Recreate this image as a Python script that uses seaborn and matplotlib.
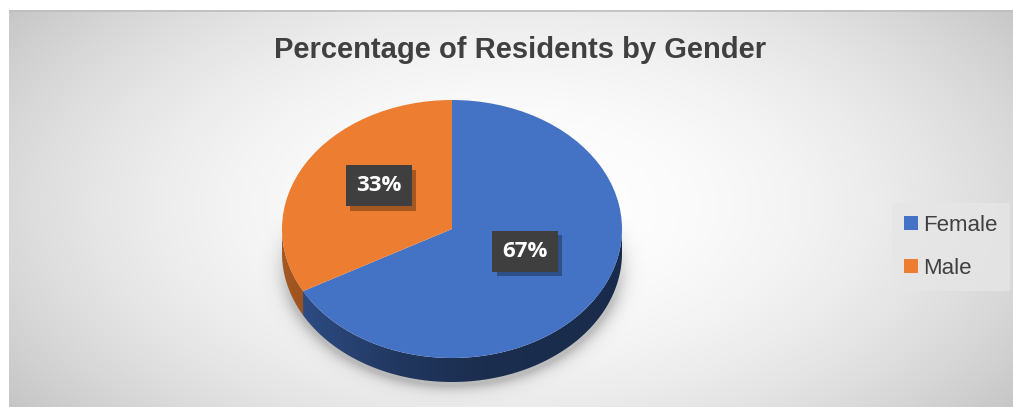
import numpy as np
import matplotlib
matplotlib.use("Agg")
import matplotlib.pyplot as plt
import seaborn as sns
from matplotlib.patches import Polygon, Rectangle
from matplotlib import patheffects as pe
from matplotlib.colors import to_rgb

# ---- data ----
genders = ["Female", "Male"]
shares = [67, 33]
colors = ["#4472C4", "#ED7D31"]
title = "Percentage of Residents by Gender"

sns.set_theme(style="white")
plt.rcParams["font.family"] = ["Liberation Sans", "DejaVu Sans"]
palette = sns.color_palette(colors)

W, H = 1013, 407
fig = plt.figure(figsize=(W / 100, H / 100), dpi=100)
fig.patch.set_facecolor("white")

# ---- chart panel with a soft radial gradient ----
px0, py0 = 9, 10
bg = fig.add_axes([px0 / W, 0, 1 - px0 / W, 1 - py0 / H])
bg.set_axis_off()
ph, pw = H - py0, W - px0
yy, xx = np.mgrid[0:ph, 0:pw]
r = np.sqrt(((xx - 505) / 560.0) ** 2 + ((yy - 195) / 300.0) ** 2)
shade = 1.0 - 0.18 * r ** 2
shade = np.clip(shade, 0.74, 1.0)
bg.imshow(np.dstack([shade] * 3), extent=(0, pw, ph, 0), aspect="auto",
          interpolation="bilinear")
bg.set_xlim(0, pw)
bg.set_ylim(ph, 0)
bg.axhline(0.5, color="#bdbdbd", lw=1.2)

# ---- pie axes (unit circle stretched into an ellipse) ----
cxp, cyp = 452, 229          # pie centre in pixels
rx, ry = 170.0, 129.0        # pixel radii of the top face
depth = 24.0 / ry            # thickness of the disc in data units
ax_l, ax_r, ax_t, ax_b = 252, 652, 88, 406
ax = fig.add_axes([ax_l / W, (H - ax_b) / H, (ax_r - ax_l) / W, (ax_b - ax_t) / H])
xlim = ((ax_l - cxp) / rx, (ax_r - cxp) / rx)
ylim = (-(ax_b - cyp) / ry, (cyp - ax_t) / ry)
ax.patch.set_alpha(0)

wedges, texts, autotexts = ax.pie(
    shares, colors=palette, startangle=90, counterclock=False,
    autopct="%.0f%%", pctdistance=0.5,
    wedgeprops=dict(linewidth=0, zorder=5),
    textprops=dict(zorder=10),
)
ax.set_aspect("auto")
ax.set_xlim(*xlim)
ax.set_ylim(*ylim)
ax.set_axis_off()

# soft drop shadow under the disc
gy, gx = np.mgrid[ylim[1]:ylim[0]:500j, xlim[0]:xlim[1]:600j]
nr = np.sqrt((gx / 1.0) ** 2 + ((gy + depth + 0.03) / 1.0) ** 2)
dist = np.clip(nr - 1.0, 0, None)
alpha = 0.38 * np.exp(-(dist / 0.05) ** 1.3) * (nr > 0.9)
alpha *= np.clip((0.1 - gy) / 0.7, 0, 1)
shadow = np.zeros(gx.shape + (4,))
shadow[..., :3] = 0.4
shadow[..., 3] = alpha
ax.imshow(shadow, extent=(xlim[0], xlim[1], ylim[0], ylim[1]), aspect="auto",
          zorder=1, interpolation="bilinear")

# side walls of the disc, shaded from left to right
gxs = np.linspace(xlim[0], xlim[1], 400)
for w, col in zip(wedges, palette):
    t = np.radians(np.linspace(w.theta1, w.theta2, 600))
    front = np.sin(t) <= 0
    if not front.any():
        continue
    tf = t[front]
    top = np.column_stack([np.cos(tf), np.sin(tf)])
    bot = np.column_stack([np.cos(tf), np.sin(tf) - depth])[::-1]
    poly = Polygon(np.vstack([top, bot]), closed=True, facecolor="none",
                   edgecolor="none", transform=ax.transData)
    ax.add_patch(poly)
    fac = np.interp(gxs, [-1.0, -0.3, 0.2, 1.0], [0.70, 0.48, 0.40, 0.38])
    grad = np.array(to_rgb(col))[None, :] * fac[:, None]
    img = ax.imshow(grad[None, :, :], extent=(xlim[0], xlim[1], ylim[0], ylim[1]),
                    aspect="auto", zorder=3, interpolation="bilinear")
    img.set_clip_path(poly)

ax.set_xlim(*xlim)
ax.set_ylim(*ylim)

# value labels in dark boxes
for t in autotexts:
    x, y = t.get_position()
    t.set_position((x, y + 0.08))
    t.set_fontfamily(["Open Sans", "DejaVu Sans"])
    t.set_fontweight("bold")
    t.set_fontsize(16)
    t.set_color("white")
    t.set_ha("center")
    t.set_va("center")
    t.set_bbox(dict(boxstyle="square,pad=0.45", facecolor="#3f3f3f",
                    edgecolor="none", linewidth=0))
    t.get_bbox_patch().set_path_effects(
        [pe.SimplePatchShadow(offset=(3, -3), shadow_rgbFace="black", alpha=0.3),
         pe.Normal()])

# ---- title ----
fig.text(520 / W, (H - 58) / H, title, ha="center", va="baseline",
         fontsize=21, fontweight="bold", color="#404040")

# ---- legend ----
handles = [Rectangle((0, 0), 1, 1, facecolor=c, edgecolor="none") for c in palette]
leg = fig.legend(handles, genders, loc="center left",
                 bbox_to_anchor=(892 / W, (H - 247) / H),
                 frameon=True, fancybox=False, fontsize=16,
                 handlelength=0.6, handleheight=0.6, handletextpad=0.25,
                 labelspacing=1.0, borderpad=0.55, borderaxespad=0)
leg.get_frame().set_facecolor("#e6e6e6")
leg.get_frame().set_edgecolor("none")
for txt in leg.get_texts():
    txt.set_color("#404040")

fig.savefig("out.png", dpi=100)
